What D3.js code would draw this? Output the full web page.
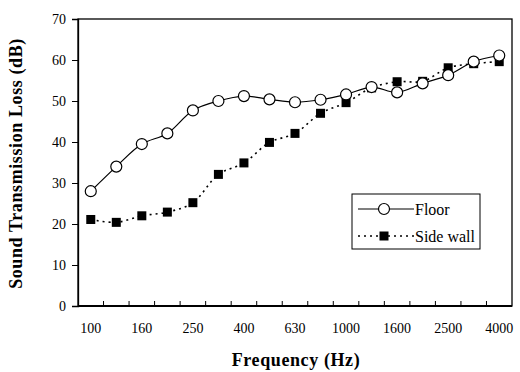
<!DOCTYPE html>
<html lang="en">
<head>
<meta charset="UTF-8">
<title>Sound transmission loss</title>
<style>
  body { margin: 0; background: #fff; }
  text { font-family: "Liberation Serif", "Times New Roman", serif; }
</style>
</head>
<body>
<div id="chart"></div>
<script src="https://cdn.jsdelivr.net/npm/d3@7"></script>
<script>
// third-octave band centre frequencies
var freqs = ["100", "125", "160", "200", "250", "315", "400", "500", "630", "800",
             "1000", "1250", "1600", "2000", "2500", "3150", "4000"];
var floorTL = [28.0, 34.0, 39.5, 42.1, 47.7, 50.0, 51.2, 50.4, 49.7, 50.3,
               51.6, 53.4, 52.1, 54.3, 56.3, 59.6, 61.1];
var sideWallTL = [21.1, 20.4, 22.0, 22.9, 25.2, 32.1, 34.9, 39.9, 42.1, 47.0,
                  49.6, 53.2, 54.7, 54.8, 58.1, 59.1, 59.6];
var xLabels = ["100", "160", "250", "400", "630", "1000", "1600", "2500", "4000"];
var yTicks = [0, 10, 20, 30, 40, 50, 60, 70];

const margin = { top: 19, right: 8, bottom: 66, left: 78 },
    width = 520 - margin.left - margin.right,
    height = 372 - margin.top - margin.bottom;

const svg = d3.select("#chart").append("svg")
    .attr("width", 520)
    .attr("height", 372)
    .append("g")
    .attr("transform", `translate(${margin.left},${margin.top})`);

var x = d3.scaleBand()
    .domain(freqs)
    .range([0, width]);

var y = d3.scaleLinear()
    .domain([0, 70])
    .range([height, 0]);

// frame
svg.append("rect")
    .attr("width", width)
    .attr("height", height)
    .attr("fill", "none")
    .attr("stroke", "#000")
    .attr("stroke-width", 1.3);

// y axis
var yAxis = d3.axisLeft(y).tickValues(yTicks).tickSize(6).tickPadding(6);
svg.append("g")
    .call(yAxis)
    .call(g => g.select(".domain").attr("stroke-width", 1.3))
    .call(g => g.selectAll("text")
        .attr("font-size", 14)
        .attr("font-family", "Liberation Serif"));

// x axis: inward ticks at band boundaries
var bounds = freqs.slice(1).map(f => x(f));
svg.append("g").selectAll("line")
    .data(bounds)
    .join("line")
    .attr("x1", d => d).attr("x2", d => d)
    .attr("y1", height).attr("y2", height - 5)
    .attr("stroke", "#000");
svg.append("line")
    .attr("x1", 0).attr("x2", width)
    .attr("y1", height).attr("y2", height)
    .attr("stroke", "#000")
    .attr("stroke-width", 2);

svg.append("g").selectAll("text")
    .data(xLabels)
    .join("text")
    .attr("x", d => x(d) + x.bandwidth() / 2)
    .attr("y", height + 27)
    .attr("text-anchor", "middle")
    .attr("font-size", 14)
    .text(d => d);

// axis titles
svg.append("text")
    .attr("x", width / 2 + 1)
    .attr("y", height + 60)
    .attr("text-anchor", "middle")
    .attr("font-size", 18)
    .attr("font-weight", "bold")
    .attr("letter-spacing", 0.6)
    .text("Frequency (Hz)");

svg.append("text")
    .attr("transform", `translate(${-56},${height / 2 + 1}) rotate(-90)`)
    .attr("text-anchor", "middle")
    .attr("font-size", 18)
    .attr("font-weight", "bold")
    .attr("letter-spacing", 0.6)
    .text("Sound Transmission Loss (dB)");

var cx = function (d, i) { return x(freqs[i]) + x.bandwidth() / 2; };

var line = d3.line()
    .x(cx)
    .y(d => y(d))
    .curve(d3.curveCatmullRom);

// side wall: dotted line, filled squares
svg.append("path")
    .datum(sideWallTL)
    .attr("d", line)
    .attr("fill", "none")
    .attr("stroke", "#000")
    .attr("stroke-width", 1.6)
    .attr("stroke-dasharray", "2,4");

svg.append("g").selectAll("rect")
    .data(sideWallTL)
    .join("rect")
    .attr("x", (d, i) => cx(d, i) - 4.5)
    .attr("y", d => y(d) - 4.5)
    .attr("width", 9)
    .attr("height", 9)
    .attr("fill", "#000");

// floor: solid line, open circles
svg.append("path")
    .datum(floorTL)
    .attr("d", line)
    .attr("fill", "none")
    .attr("stroke", "#000")
    .attr("stroke-width", 1.2);

svg.append("g").selectAll("circle")
    .data(floorTL)
    .join("circle")
    .attr("cx", cx)
    .attr("cy", d => y(d))
    .attr("r", 5.5)
    .attr("fill", "#fff")
    .attr("stroke", "#000")
    .attr("stroke-width", 1.2);

// legend
var lg = svg.append("g").attr("transform", `translate(${352 - margin.left},${194 - margin.top})`);
lg.append("rect")
    .attr("width", 128)
    .attr("height", 55)
    .attr("fill", "#fff")
    .attr("stroke", "#000")
    .attr("stroke-width", 1);

lg.append("line")
    .attr("x1", 6).attr("x2", 62).attr("y1", 15).attr("y2", 15)
    .attr("stroke", "#000").attr("stroke-width", 1.2);
lg.append("circle")
    .attr("cx", 32).attr("cy", 15).attr("r", 5.5)
    .attr("fill", "#fff").attr("stroke", "#000").attr("stroke-width", 1.2);
lg.append("text")
    .attr("x", 63).attr("y", 20.5)
    .attr("font-size", 16)
    .text("Floor");

lg.append("line")
    .attr("x1", 6).attr("x2", 62).attr("y1", 42).attr("y2", 42)
    .attr("stroke", "#000").attr("stroke-width", 1.6)
    .attr("stroke-dasharray", "2,4");
lg.append("rect")
    .attr("x", 27.5).attr("y", 37.5).attr("width", 9).attr("height", 9)
    .attr("fill", "#000");
lg.append("text")
    .attr("x", 63).attr("y", 47.5)
    .attr("font-size", 16)
    .text("Side wall");
</script>
</body>
</html>
